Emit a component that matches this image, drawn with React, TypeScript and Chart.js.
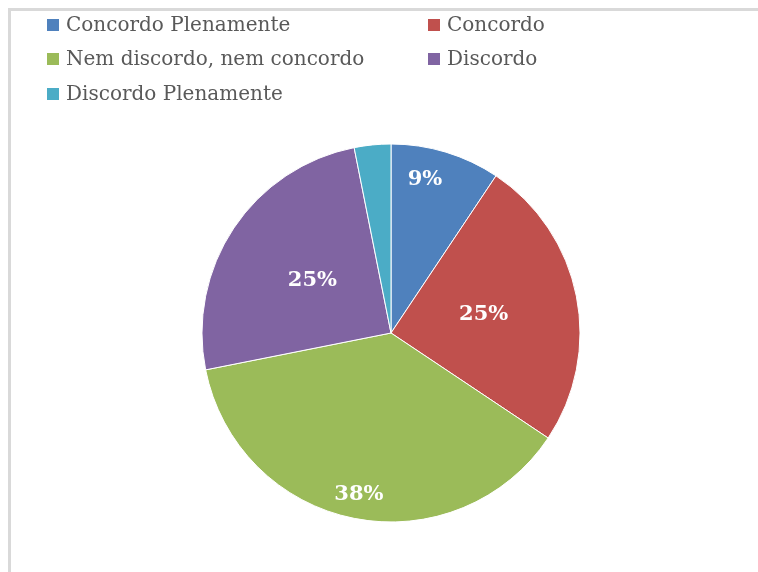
import React, { useEffect, useRef } from "react";
import { Chart, registerables } from "chart.js";

Chart.register(...registerables);

const categories = [
  "Concordo Plenamente",
  "Concordo",
  "Nem discordo, nem concordo",
  "Discordo",
  "Discordo Plenamente",
];
const counts = [3, 8, 12, 8, 1];
const colors = ["#4f81bd", "#c0504d", "#9bbb59", "#8064a2", "#4bacc6"];
// label placement style: fraction along the arc, fraction of radius, shown?
const labelAlong = [0.37, 0.5, 0.5, 0.5, 0.5];
const labelRadial = [0.83, 0.5, 0.87, 0.5, 0.5];
const labelShown = [true, true, true, true, false];

const FONT = "'DejaVu Serif', serif";

const legendPlugin = {
  id: "customLegend",
  afterDraw(chart: any) {
    const ctx = chart.ctx;
    ctx.save();
    ctx.font = `20px ${FONT}`;
    ctx.textBaseline = "middle";
    ctx.textAlign = "left";
    const colX = [36, 417];
    const rowY = [14, 48, 83];
    categories.forEach((c, i) => {
      const col = i % 2;
      const row = Math.floor(i / 2);
      const x = colX[col];
      const y = rowY[row];
      ctx.fillStyle = colors[i];
      ctx.fillRect(x, y - 6, 12, 12);
      ctx.fillStyle = "#595959";
      ctx.fillText(c, x + 19, y + 1);
    });
    ctx.restore();
  },
};

const labelPlugin = {
  id: "sliceLabels",
  afterDatasetsDraw(chart: any) {
    const ctx = chart.ctx;
    const meta = chart.getDatasetMeta(0);
    const data = chart.data.datasets[0].data as number[];
    const total = data.reduce((a, b) => a + b, 0);
    ctx.save();
    ctx.font = `bold 21px ${FONT}`;
    ctx.fillStyle = "#ffffff";
    ctx.textAlign = "center";
    ctx.textBaseline = "middle";
    meta.data.forEach((arc: any, i: number) => {
      if (!labelShown[i]) return;
      const { x, y, startAngle, endAngle, outerRadius } = arc.getProps(
        ["x", "y", "startAngle", "endAngle", "outerRadius"],
        true
      );
      const a = startAngle + (endAngle - startAngle) * labelAlong[i];
      const r = outerRadius * labelRadial[i];
      const pct = Math.round((data[i] / total) * 100);
      ctx.fillText(pct + "%", x + Math.cos(a) * r, y + Math.sin(a) * r);
    });
    ctx.restore();
  },
};

export default function App() {
  const ref = useRef<HTMLCanvasElement>(null);
  useEffect(() => {
    if (!ref.current) return;
    const chart = new Chart(ref.current, {
      type: "pie",
      data: {
        labels: categories,
        datasets: [
          {
            data: counts,
            backgroundColor: colors,
            borderColor: "#ffffff",
            borderWidth: 1,
          },
        ],
      },
      options: {
        animation: false,
        responsive: false,
        radius: 189,
        layout: { padding: { top: 133, bottom: 50, left: 13, right: 0 } },
        plugins: {
          legend: { display: false },
          tooltip: { enabled: false },
        },
      } as any,
      plugins: [legendPlugin, labelPlugin],
    });
    return () => chart.destroy();
  }, []);
  return (
    <div
      style={{
        position: "fixed",
        left: 8,
        top: 8,
        width: 750,
        height: 564,
        borderTop: "3px solid #d9d9d9",
        borderLeft: "3px solid #d9d9d9",
        boxSizing: "border-box",
        background: "#fff",
        overflow: "hidden",
      }}
    >
      <canvas ref={ref} width={747} height={561} style={{ display: "block" }} />
    </div>
  );
}
